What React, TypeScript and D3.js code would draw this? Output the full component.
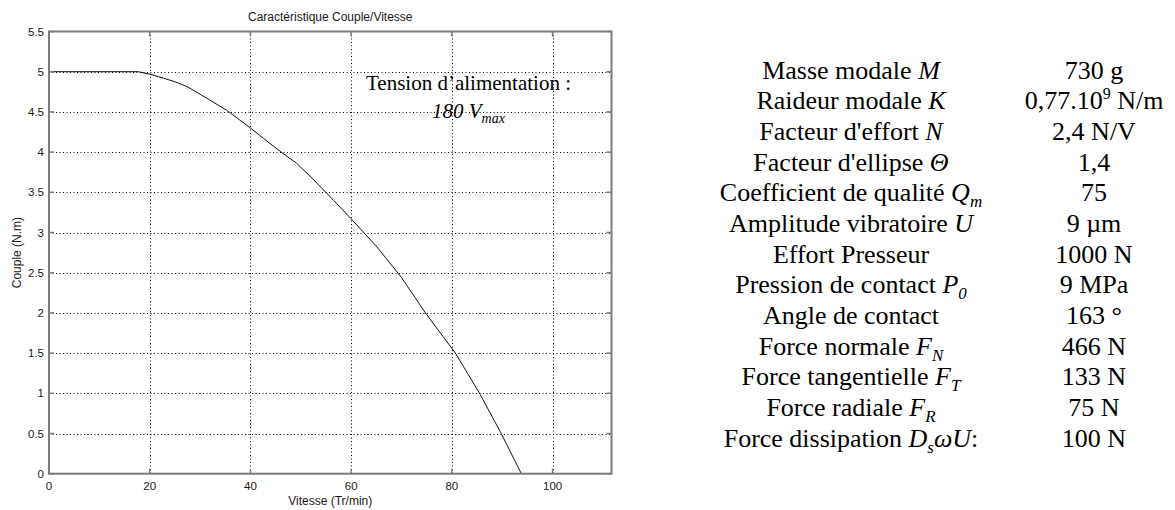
import React from "react";
import * as d3 from "d3";

// ---- Chart data ----
const speed = [0, 17.75, 20, 22.7, 25, 27.4, 30, 35.3, 40, 42.6, 46.3, 49.2, 52.5, 56.5, 60, 65, 70, 74.75, 80.7, 85.5, 89.8, 93.8];
const torque = [5, 5, 4.97, 4.92, 4.875, 4.815, 4.72, 4.52, 4.3, 4.17, 3.99, 3.86, 3.66, 3.4, 3.17, 2.83, 2.44, 2.0, 1.5, 1.0, 0.5, 0];
const xTicks = [0, 20, 40, 60, 80, 100];
const yTicks = [0, 0.5, 1, 1.5, 2, 2.5, 3, 3.5, 4, 4.5, 5, 5.5];
const xDomain = [0, 111.7];
const yDomain = [0, 5.5];

const chartTitle = "Caractéristique Couple/Vitesse";
const xLabel = "Vitesse (Tr/min)";
const yLabel = "Couple (N.m)";
const noteLine1 = "Tension d’alimentation :";
const noteValue = "180 V";
const noteSub = "max";

// ---- Parameter table ----
const paramNames = [
  "Masse modale",
  "Raideur modale",
  "Facteur d'effort",
  "Facteur d'ellipse",
  "Coefficient de qualité",
  "Amplitude vibratoire",
  "Effort Presseur",
  "Pression de contact",
  "Angle de contact",
  "Force normale",
  "Force tangentielle",
  "Force radiale",
  "Force dissipation",
];
const paramSymbols = ["M", "K", "N", "Θ", "Q", "U", "", "P", "", "F", "F", "F", "D"];
const paramSubs = ["", "", "", "", "m", "", "", "0", "", "N", "T", "R", "s"];
const paramTails = ["", "", "", "", "", "", "", "", "", "", "", "", "ωU"];
const paramEnds = ["", "", "", "", "", "", "", "", "", "", "", "", ":"];
const paramValues = ["730 g", "0,77.10^9 N/m", "2,4 N/V", "1,4", "75", "9 µm", "1000 N", "9 MPa", "163 °", "466 N", "133 N", "75 N", "100 N"];

const W = 1175;
const H = 510;
const plot = { left: 49, right: 611.5, top: 31.5, bottom: 473.7 };

export default function App() {
  const x = d3.scaleLinear().domain(xDomain).range([plot.left, plot.right]);
  const y = d3.scaleLinear().domain(yDomain).range([plot.bottom, plot.top]);
  const pts = speed.map((s, i) => [s, torque[i]] as [number, number]);
  const line = d3
    .line<[number, number]>()
    .x((d) => x(d[0]))
    .y((d) => y(d[1]));

  const rowY = d3
    .scalePoint<number>()
    .domain(paramNames.map((_, i) => i))
    .range([78.5, 446.7]);

  const sans = "'Liberation Sans', Arial, Helvetica, sans-serif";
  const serif = "'Liberation Serif', 'Times New Roman', serif";
  const axisColor = "#7c7c7c";
  const tickLen = 5;

  return (
    <svg
      width={W}
      height={H}
      style={{ position: "absolute", left: 0, top: 0, display: "block", background: "#fff" }}
    >
      <rect x={0} y={0} width={W} height={H} fill="#fff" />
      {/* grid */}
      <g stroke="#000" strokeWidth={1} strokeDasharray="1 2.5">
        {xTicks
          .filter((t) => t > 0)
          .map((t) => (
            <line key={"gx" + t} x1={Math.round(x(t)) + 0.5} x2={Math.round(x(t)) + 0.5} y1={plot.top} y2={plot.bottom} />
          ))}
        {yTicks
          .filter((t) => t > 0 && t < yDomain[1])
          .map((t) => (
            <line key={"gy" + t} x1={plot.left} x2={plot.right} y1={Math.round(y(t)) + 0.5} y2={Math.round(y(t)) + 0.5} />
          ))}
      </g>
      {/* curve */}
      <path d={line(pts) || ""} fill="none" stroke="#111" strokeWidth={1} />
      {/* axes box */}
      <rect
        x={plot.left}
        y={plot.top}
        width={plot.right - plot.left}
        height={plot.bottom - plot.top}
        fill="none"
        stroke={axisColor}
        strokeWidth={2}
      />
      <g stroke={axisColor} strokeWidth={1.5}>
        {xTicks.map((t) => (
          <g key={"tx" + t}>
            <line x1={x(t)} x2={x(t)} y1={plot.bottom} y2={plot.bottom - tickLen} />
            <line x1={x(t)} x2={x(t)} y1={plot.top} y2={plot.top + tickLen} />
          </g>
        ))}
        {yTicks.map((t) => (
          <g key={"ty" + t}>
            <line x1={plot.left} x2={plot.left + tickLen} y1={y(t)} y2={y(t)} />
            <line x1={plot.right} x2={plot.right - tickLen} y1={y(t)} y2={y(t)} />
          </g>
        ))}
      </g>
      {/* tick labels */}
      <g fontFamily={sans} fontSize={11.5} fill="#1a1a1a">
        {xTicks.map((t) => (
          <text key={"lx" + t} x={x(t)} y={490} textAnchor="middle">
            {String(t)}
          </text>
        ))}
        {yTicks.map((t) => (
          <text key={"ly" + t} x={plot.left - 5} y={y(t)} dy="0.36em" textAnchor="end">
            {String(t)}
          </text>
        ))}
      </g>
      {/* title and axis labels */}
      <text x={(plot.left + plot.right) / 2} y={21} textAnchor="middle" fontFamily={sans} fontSize={12} fill="#1a1a1a">
        {chartTitle}
      </text>
      <text x={(plot.left + plot.right) / 2} y={505} textAnchor="middle" fontFamily={sans} fontSize={12} fill="#1a1a1a">
        {xLabel}
      </text>
      <text
        transform={`translate(17, ${(plot.top + plot.bottom) / 2}) rotate(-90)`}
        dy="0.35em"
        textAnchor="middle"
        fontFamily={sans}
        fontSize={12}
        fill="#1a1a1a"
      >
        {yLabel}
      </text>
      {/* annotation */}
      <g fontFamily={serif} fontSize={21} fill="#000">
        <text x={366} y={90}>
          {noteLine1}
        </text>
        <text x={432} y={118} fontStyle="italic">
          {noteValue}
          <tspan dy={5} fontSize={14}>
            {noteSub}
          </tspan>
        </text>
      </g>
      {/* parameter table */}
      <g fontFamily={serif} fontSize={26} fill="#000">
        {paramNames.map((name, i) => {
          const yy = rowY(i) as number;
          const sym = paramSymbols[i];
          const sub = paramSubs[i];
          const tail = paramTails[i];
          const end = paramEnds[i];
          return (
            <text key={"p" + i} x={851} y={yy} textAnchor="middle">
              {name}
              {sym ? " " : ""}
              {sym ? <tspan fontStyle="italic">{sym}</tspan> : null}
              {sub ? (
                <tspan fontStyle="italic" fontSize={17} dy={6}>
                  {sub}
                </tspan>
              ) : null}
              {sub ? (
                <tspan fontStyle="italic" dy={-6}>
                  {tail}
                </tspan>
              ) : null}
              {end ? <tspan>{end}</tspan> : null}
            </text>
          );
        })}
        {paramValues.map((v, i) => {
          const yy = rowY(i) as number;
          const m = v.match(/^(.*)\^(\d+)(.*)$/);
          if (m) {
            return (
              <text key={"v" + i} x={1094} y={yy} textAnchor="middle">
                {m[1]}
                <tspan fontSize={16} dy={-10}>
                  {m[2]}
                </tspan>
                <tspan dy={10}>{m[3]}</tspan>
              </text>
            );
          }
          return (
            <text key={"v" + i} x={1094} y={yy} textAnchor="middle">
              {v}
            </text>
          );
        })}
      </g>
    </svg>
  );
}
